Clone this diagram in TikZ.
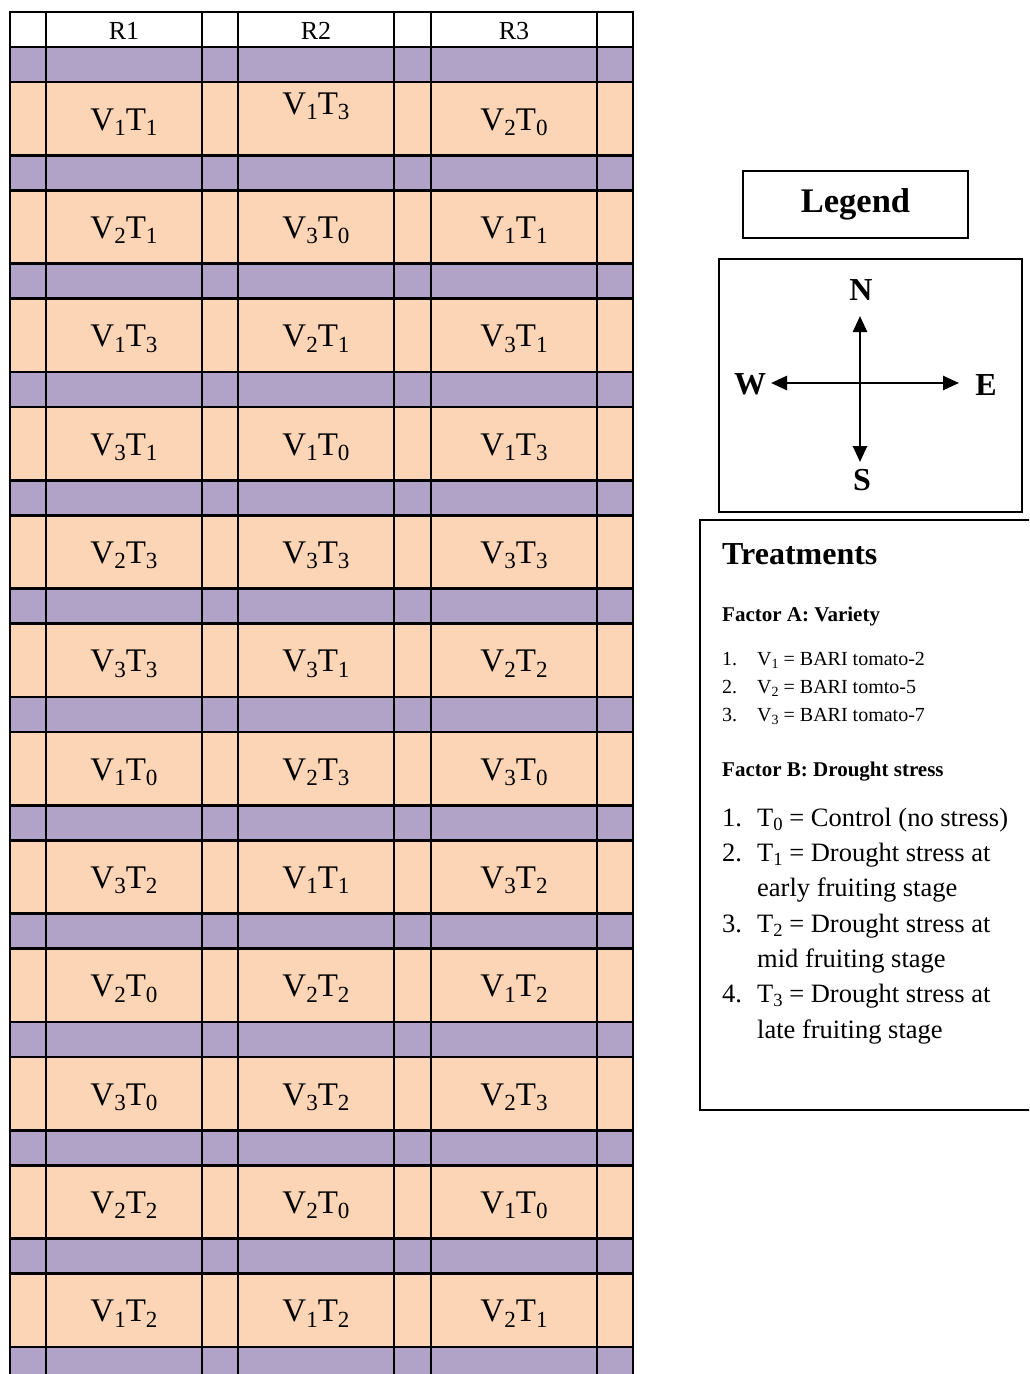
\documentclass[tikz,border=0pt]{standalone}
\usepackage{fontspec}
\setmainfont{Liberation Serif}
\usetikzlibrary{arrows.meta}
\definecolor{plotorange}{RGB}{251,213,181}
\definecolor{pathpurple}{RGB}{177,162,199}
\newcommand{\sbx}[1]{\raisebox{-0.17em}{\scalebox{0.7}{#1}}}
\newcommand{\vt}[2]{V\sbx{#1}T\sbx{#2}}
\tikzset{
  grid/.style={line width=2.6pt, draw=black},
  celltxt/.style={anchor=base, inner sep=0pt, font=\fontsize{33}{33}\selectfont},
  headtxt/.style={anchor=base, inner sep=0pt, font=\fontsize{26}{26}\selectfont},
  boxline/.style={draw=black, line width=2pt},
  dirtxt/.style={inner sep=0pt, font=\fontsize{32}{32}\selectfont\bfseries},
  compassarrow/.style={line width=2.6pt, {Triangle[length=16pt,width=14pt]}-{Triangle[length=16pt,width=14pt]}},
  trtxt/.style={anchor=base west, inner sep=0pt},
}
\begin{document}
\begin{tikzpicture}[x=1pt,y=-1pt]
\useasboundingbox (0,0) rectangle (1029,1374);
\clip (0,0) rectangle (1029,1374);
% field background
\foreach \k in {0,...,11} {
  \fill[pathpurple] (10,{47+108.333*\k}) rectangle (633,{82+108.333*\k});
  \fill[plotorange] (10,{82+108.333*\k}) rectangle (633,{155.333+108.333*\k});
}
\fill[pathpurple] (10,1346.67) rectangle (633,1380);
% horizontal lines
\draw[grid] (10,12) -- (633,12);
\foreach \k in {0,...,12} {
  \draw[grid] (10,{47+108.333*\k}) -- (633,{47+108.333*\k});
}
\foreach \k in {0,...,11} {
  \draw[grid] (10,{82+108.333*\k}) -- (633,{82+108.333*\k});
}
% vertical lines
\foreach \x in {10,46,202,238,394,431,597,633} {
  \draw[grid] (\x,10.7) -- (\x,1380);
}
% headers
\node[headtxt] (h1) at (124,39) {R1};
\node[headtxt] (h2) at (316,39) {R2};
\node[headtxt] (h3) at (514,39) {R3};
% plot labels
\node[celltxt] (c11) at (124,{130}) {\vt{1}{1}};
\node[celltxt] (c12) at (316,{114}) {\vt{1}{3}};
\node[celltxt] (c13) at (514,{130}) {\vt{2}{0}};
\foreach \r/\a/\b/\c/\d/\e/\f in {
  1/2/1/3/0/1/1,
  2/1/3/2/1/3/1,
  3/3/1/1/0/1/3,
  4/2/3/3/3/3/3,
  5/3/3/3/1/2/2,
  6/1/0/2/3/3/0,
  7/3/2/1/1/3/2,
  8/2/0/2/2/1/2,
  9/3/0/3/2/2/3,
  10/2/2/2/0/1/0,
  11/1/2/1/2/2/1} {
  \node[celltxt] (c\r a) at (124,{130+108.333*\r}) {\vt{\a}{\b}};
  \node[celltxt] (c\r b) at (316,{130+108.333*\r}) {\vt{\c}{\d}};
  \node[celltxt] (c\r c) at (514,{130+108.333*\r}) {\vt{\e}{\f}};
}
% legend
\node[boxline, minimum width=225pt, minimum height=67pt, font=\fontsize{34.5}{34.5}\selectfont\bfseries] (legend) at (855.5,204.5) {Legend};
% compass
\node[boxline, minimum width=303pt, minimum height=253pt] (compassbox) at (870.5,385.5) {};
\coordinate (cN) at (860,316);
\coordinate (cS) at (860,462);
\coordinate (cW) at (771,383);
\coordinate (cE) at (959,383);
\draw[compassarrow] (cS) -- (cN);
\draw[compassarrow] (cW) -- (cE);
\node[dirtxt] (lN) at (861,290) {N};
\node[dirtxt] (lS) at (862,480) {S};
\node[dirtxt] (lW) at (750,384) {W};
\node[dirtxt] (lE) at (986,385) {E};
% treatments
\draw[line width=2pt] (1040,520) -- (700,520) -- (700,1110) -- (1040,1110);
\node[trtxt, font=\fontsize{32}{32}\selectfont\bfseries] (tt) at (722,564) {Treatments};
\node[trtxt, font=\fontsize{21}{21}\selectfont\bfseries] (fa) at (722,621) {Factor A: Variety};
\begin{scope}[every node/.style={trtxt, font=\fontsize{20}{20}\selectfont}]
\node (a1n) at (722,665) {1.};
\node (a1t) at (757,665) {V\sbx{1} = BARI tomato-2};
\node (a2n) at (722,693) {2.};
\node (a2t) at (757,693) {V\sbx{2} = BARI tomto-5};
\node (a3n) at (722,721) {3.};
\node (a3t) at (757,721) {V\sbx{3} = BARI tomato-7};
\end{scope}
\node[trtxt, font=\fontsize{21}{21}\selectfont\bfseries] (fb) at (722,776) {Factor B: Drought stress};
\begin{scope}[every node/.style={trtxt, font=\fontsize{26.5}{26.5}\selectfont}]
\node (b1n) at (722,826) {1.};
\node (b1t) at (757,826) {T\sbx{0} = Control (no stress)};
\node (b2n) at (722,861) {2.};
\node (b2t) at (757,861) {T\sbx{1} = Drought stress at};
\node (b2u) at (757,896) {early fruiting stage};
\node (b3n) at (722,932) {3.};
\node (b3t) at (757,932) {T\sbx{2} = Drought stress at};
\node (b3u) at (757,967) {mid fruiting stage};
\node (b4n) at (722,1002) {4.};
\node (b4t) at (757,1002) {T\sbx{3} = Drought stress at};
\node (b4u) at (757,1038) {late fruiting stage};
\end{scope}
\end{tikzpicture}
\end{document}
